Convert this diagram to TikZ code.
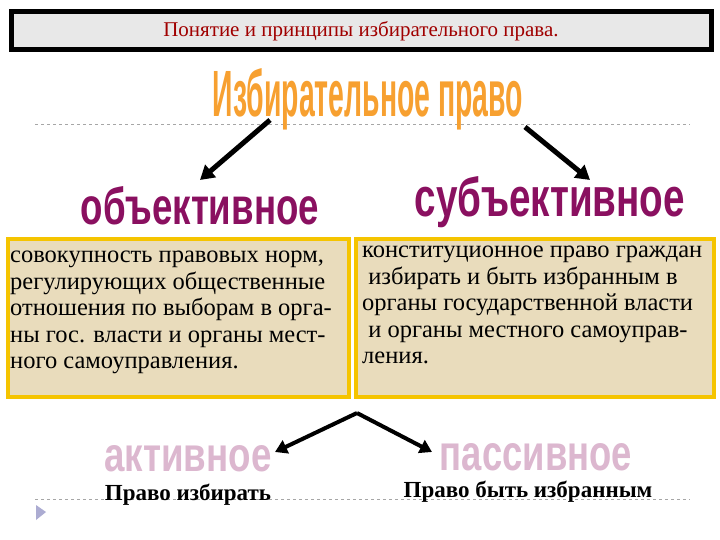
\documentclass[tikz,border=0pt]{standalone}
\usepackage{fontspec}
\usepackage{graphicx}
\setmainfont{Liberation Serif}
\newfontfamily\hsans{Liberation Sans}
\usetikzlibrary{arrows.meta}
\definecolor{parch}{HTML}{E9DCBC}
\definecolor{gold}{HTML}{F5C400}
\definecolor{darkred}{HTML}{A00000}
\definecolor{orng}{HTML}{F7A030}
\definecolor{purp}{HTML}{8A1060}
\tikzset{
  box/.style={draw=gold,line width=4pt,fill=parch},
  body/.style={anchor=north west,align=left,font=\fontsize{24.5}{26.5}\selectfont,inner sep=0pt},
  bigarrow/.style={line width=5pt,-{Triangle[length=14pt,width=16pt]}},
  sep/.style={gray!70,dashed,line width=0.6pt},
  word/.style={inner sep=0pt}
}
\begin{document}
\begin{tikzpicture}[x=1pt,y=-1pt]
\useasboundingbox (0,0) rectangle (720,540);
\fill[white] (0,0) rectangle (720,540);
\node[draw=black,line width=5pt,fill=gray!18,minimum width=700pt,minimum height=38pt,
  font=\fontsize{21}{23}\selectfont,text=darkred] (title) at (361,31) {Понятие и принципы избирательного права.};
\draw[sep] (35,124) -- (690,124);
\draw[sep] (35,499) -- (690,499);
\node[word] (main) at (368,99) {\resizebox{310pt}{48pt}{\hsans\bfseries\color{orng}Избирательное право}};
\node[word] (obj) at (200,206) {\resizebox{238pt}{38pt}{\hsans\bfseries\color{purp}объективное}};
\node[word] (sub) at (550,202) {\resizebox{270pt}{40pt}{\hsans\bfseries\color{purp}субъективное}};
\coordinate (mL) at (270,120);
\coordinate (mR) at (525,127);
\coordinate (oT) at (200,180);
\coordinate (sT) at (590,180);
\draw[bigarrow] (mL) -- (oT);
\draw[bigarrow] (mR) -- (sT);
\node[box,minimum width=341pt,minimum height=158pt,anchor=north west] (bl) at (6,237) {};
\node[box,minimum width=358pt,minimum height=158pt,anchor=north west] (br) at (354,237) {};
\node[body] (tl) at (10,251) {совокупность правовых норм,\\регулирующих общественные\\отношения по выборам в орга-\\ны гос. власти и органы мест-\\ного самоуправления.};
\node[body] (tr) at (362,246) {конституционное право граждан\\\ избирать и быть избранным в\\органы государственной власти\\\ и органы местного самоуправ-\\ления.};
\coordinate (apex) at (357,413);
\node[word] (act) at (188,459) {\resizebox{167pt}{26pt}{\hsans\bfseries\color{purp!30}активное}};
\node[word] (pas) at (536,457) {\resizebox{192pt}{27pt}{\hsans\bfseries\color{purp!30}пассивное}};
\draw[line width=4pt,-{Triangle[length=12pt,width=14pt]}] (apex) -- (275,452);
\draw[line width=4pt,-{Triangle[length=12pt,width=14pt]}] (apex) -- (432,452);
\node[word,font=\bfseries\fontsize{23}{24}\selectfont] (pa) at (188,495) {Право избирать};
\node[word,font=\bfseries\fontsize{23}{24}\selectfont] (pb) at (528,492) {Право быть избранным};
\fill[blue!30!gray!50] (36,505) -- (46,512) -- (36,520) -- cycle;
\end{tikzpicture}
\end{document}
